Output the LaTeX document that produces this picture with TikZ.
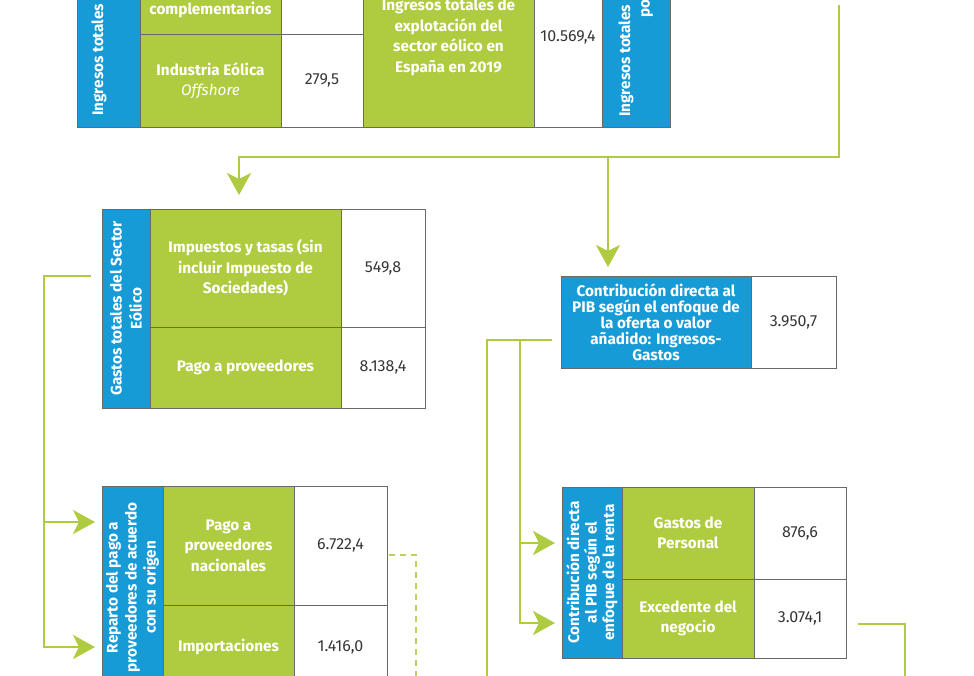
\documentclass[tikz,border=0pt]{standalone}
\usepackage{fontspec}
\setmainfont{Fira Sans}
\usetikzlibrary{arrows.meta,calc}
\definecolor{lime}{RGB}{175,203,63}
\definecolor{sky}{RGB}{22,155,215}
\definecolor{edge}{RGB}{105,105,105}
\definecolor{numgray}{RGB}{55,55,55}
\begin{document}
\begin{tikzpicture}[x=1pt,y=-1pt,
  box/.style={draw=edge, line width=0.9pt, inner sep=0pt, outer sep=0pt},
  gbox/.style={box, fill=lime, text=white, align=center, font=\fontsize{15.3}{20.5}\selectfont\bfseries},
  bbox/.style={box, fill=sky, text=white, align=center, font=\fontsize{15.3}{#1}\selectfont\bfseries},
  bbox/.default=20,
  wbox/.style={box, fill=white, text=numgray, font=\fontsize{16}{18}\selectfont},
  rottext/.style={rotate=90, anchor=west, inner sep=0pt, text=white, font=\fontsize{15.3}{18}\selectfont\bfseries},
  conn/.style={draw=lime, line width=2.9pt},
  tip/.style={-{Stealth[length=22pt,width=24pt,inset=6pt]}},
  dashln/.style={draw=lime!85!white, line width=2.5pt, dash pattern=on 6pt off 5pt}
]
\useasboundingbox (0,0) rectangle (974,675);
\fill[white] (0,0) rectangle (974,675);

% ---------- top table (cropped) ----------
\node[box, fill=sky, minimum width=63pt, minimum height=200pt] (t1b) at (108.5,27) {};
\node[rottext] (t1bt) at (99,116) {Ingresos totales};
\node[gbox, minimum width=141pt, minimum height=48pt] (t1ga) at (210.5,10) {complementarios};
\node[wbox, minimum width=82pt, minimum height=48pt] (t1wa) at (322,10) {};
\node[gbox, minimum width=141pt, minimum height=93pt] (t1gb) at (210.5,80.5) {Industria Eólica\\{\mdseries\itshape Offshore}};
\node[wbox, minimum width=82pt, minimum height=93pt] (t1wb) at (322,80.5) {279,5};
\node[gbox, minimum width=171pt, minimum height=179pt] (t1big) at (448.5,37.5) {Ingresos totales de\\explotación del\\sector eólico en\\España en 2019};
\node[wbox, minimum width=68pt, minimum height=179pt] (t1bw) at (568,37.5) {10.569,4};
\node[box, fill=sky, minimum width=68pt, minimum height=200pt] (t1rb) at (636,27) {};
\node[rottext] (t1rt1) at (626,117) {Ingresos totales};
\node[rottext] (t1rt2) at (647,18) {po};

% ---------- Gastos totales ----------
\node[bbox=20, rotate=90, minimum width=199pt, minimum height=48pt] (t2b) at (126,308.5) {Gastos totales del Sector\\Eólico};
\node[gbox, minimum width=191pt, minimum height=118pt] (t2ga) at (245.5,268) {Impuestos y tasas (sin\\incluir Impuesto de\\Sociedades)};
\node[wbox, minimum width=84pt, minimum height=118pt] (t2wa) at (383,268) {549,8};
\node[gbox, minimum width=191pt, minimum height=81pt] (t2gb) at (245.5,367.5) {Pago a proveedores};
\node[wbox, minimum width=84pt, minimum height=81pt] (t2wb) at (383,367.5) {8.138,4};

% ---------- Reparto ----------
\node[bbox=19, rotate=90, minimum width=203pt, minimum height=61pt] (t3b) at (132.5,587.5) {Reparto del pago a\\proveedores de acuerdo\\con su origen};
\node[gbox, minimum width=131pt, minimum height=119pt] (t3ga) at (228.5,545.5) {Pago a\\proveedores\\nacionales};
\node[wbox, minimum width=93pt, minimum height=119pt] (t3wa) at (340.5,545.5) {6.722,4};
\node[gbox, minimum width=131pt, minimum height=84pt] (t3gb) at (228.5,647) {Importaciones};
\node[wbox, minimum width=93pt, minimum height=84pt] (t3wb) at (340.5,647) {1.416,0};

% ---------- Contribucion oferta ----------
\node[bbox=16, minimum width=190pt, minimum height=92pt] (t4b) at (656,322) {Contribución directa al\\PIB según el enfoque de\\la oferta o valor\\añadido: Ingresos-\\Gastos};
\node[wbox, minimum width=85pt, minimum height=92pt] (t4w) at (793.5,322) {3.950,7};

% ---------- Contribucion renta ----------
\node[bbox=17.5, rotate=90, minimum width=171pt, minimum height=60pt] (t5b) at (592,572.5) {Contribución directa\\al PIB según el\\enfoque de la renta};
\node[gbox, minimum width=132pt, minimum height=92pt] (t5ga) at (688,533) {Gastos de\\Personal};
\node[wbox, minimum width=92pt, minimum height=92pt] (t5wa) at (800,533) {876,6};
\node[gbox, minimum width=132pt, minimum height=79pt] (t5gb) at (688,618.5) {Excedente del\\negocio};
\node[wbox, minimum width=92pt, minimum height=79pt] (t5wb) at (800,618.5) {3.074,1};

% ---------- connectors ----------
\coordinate (src) at (839,5);
\coordinate (j1) at (608,157);
\draw[conn] (src) |- (j1);
\draw[conn,tip,shorten >=14pt] (j1) -| ([xshift=-6.5pt]t2ga.north);
\draw[conn,tip,shorten >=9pt] (j1) -- (j1 |- t4b.north);

\coordinate (g0) at (91,276);
\coordinate (g1) at (44,276);
\coordinate (g2) at (44,522);
\coordinate (g3) at (44,647);
\draw[conn] (g0) -- (g1) -- (g2);
\draw[conn,tip,shorten >=7pt] (g2) -- (g2 -| t3b.north);
\draw[conn,tip,shorten >=7pt] (g2) -- (g3) -- (g3 -| t3b.north);

\coordinate (d0) at (389,555);
\coordinate (d1) at (416,555);
\coordinate (d2) at (416,700);
\draw[dashln] (d0) -- (d1) -- (d2);

\coordinate (r0) at (552,340);
\coordinate (r1) at (487,340);
\coordinate (r2) at (520,340);
\coordinate (r3) at (520,543);
\coordinate (r4) at (520,623);
\draw[conn] (r0) -- (r1) -- (487,700);
\draw[conn] (r2) -- (r3);
\draw[conn,tip,shorten >=7pt] (r3) -- (r3 -| t5b.north);
\draw[conn,tip,shorten >=7pt] (r3) -- (r4) -- (r4 -| t5b.north);

\coordinate (e0) at (858,624);
\coordinate (e1) at (905,624);
\coordinate (e2) at (905,700);
\draw[conn] (e0) -- (e1) -- (e2);
\end{tikzpicture}
\end{document}
